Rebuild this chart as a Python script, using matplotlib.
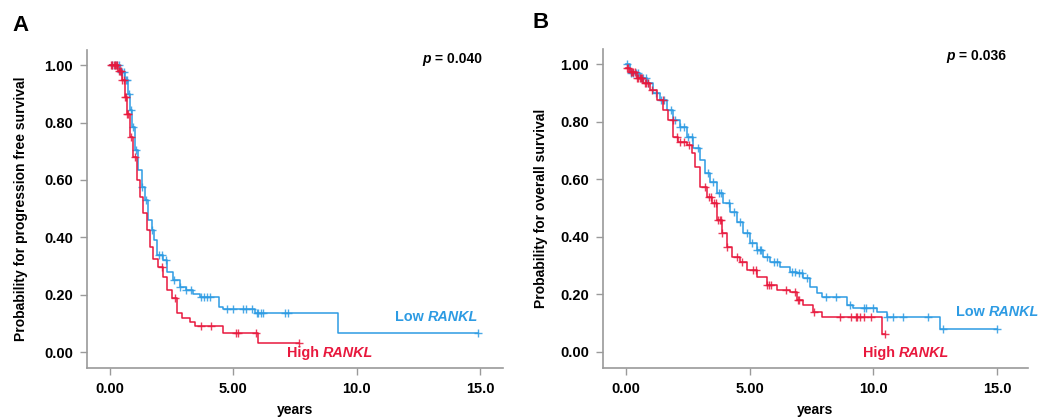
import numpy as np
import matplotlib
matplotlib.use("Agg")
import matplotlib.pyplot as plt

plt.rcParams['font.family'] = ['Liberation Sans', 'DejaVu Sans']
plt.rcParams['font.weight'] = 'bold'

RED = '#e8183d'
BLUE = '#2d9be3'

# Panel A: progression free survival (time in years, survival probability)
pfs_low_t = [0, 0.4, 0.6, 0.74, 0.81, 0.88, 1.01, 1.15, 1.28, 1.42, 1.55, 1.69, 1.78, 1.89,
             2.16, 2.3, 2.57, 2.84, 3.1, 3.38, 3.65, 4.4, 4.6, 5.88, 9.26]
pfs_low_s = [1.0, 0.977, 0.948, 0.90, 0.843, 0.785, 0.704, 0.634, 0.576, 0.53, 0.46, 0.425, 0.39, 0.338,
             0.32, 0.28, 0.25, 0.228, 0.216, 0.204, 0.193, 0.158, 0.149, 0.135, 0.067]
pfs_low_end = 14.93
pfs_low_cens = [0.1, 0.2, 0.3, 0.35, 0.45, 0.5, 0.55, 0.65, 0.7, 0.78, 0.85, 0.95, 1.05, 1.3,
                1.45, 1.7, 2.0, 2.1, 2.25, 2.6, 2.85, 3.1, 3.3, 3.7, 3.8, 3.95, 4.05,
                4.75, 5.0, 5.4, 5.5, 5.75, 5.95, 6.0, 6.1, 6.2, 7.1, 7.2, 14.93]

pfs_high_t = [0, 0.34, 0.47, 0.6, 0.68, 0.81, 0.95, 1.08, 1.22, 1.35, 1.49, 1.62, 1.76, 1.96,
              2.16, 2.3, 2.5, 2.7, 2.9, 3.24, 3.45, 4.6, 6.01]
pfs_high_s = [1.0, 0.98, 0.948, 0.89, 0.83, 0.75, 0.68, 0.60, 0.54, 0.483, 0.425, 0.367, 0.326, 0.297,
              0.262, 0.216, 0.187, 0.135, 0.117, 0.106, 0.09, 0.065, 0.033]
pfs_high_end = 7.64
pfs_high_cens = [0.05, 0.1, 0.15, 0.2, 0.25, 0.3, 0.35, 0.4, 0.45, 0.5, 0.55, 0.62, 0.65, 0.7,
                 0.75, 0.85, 1.0, 2.1, 2.65, 3.7, 4.1, 5.1, 5.2, 5.9, 7.64]

# Panel B: overall survival
os_low_t = [0, 0.16, 0.57, 0.84, 1.1, 1.37, 1.64, 1.91, 2.18, 2.45, 2.72, 2.99, 3.19, 3.4, 3.67,
            3.94, 4.2, 4.47, 4.74, 5.01, 5.28, 5.55, 5.82, 6.23, 6.63, 6.9, 7.17, 7.44, 7.71,
            7.91, 8.92, 9.19, 10.13, 10.54, 12.7]
os_low_s = [1.0, 0.969, 0.951, 0.934, 0.90, 0.876, 0.841, 0.806, 0.783, 0.748, 0.708, 0.667, 0.62,
            0.592, 0.551, 0.516, 0.487, 0.452, 0.412, 0.377, 0.354, 0.33, 0.313, 0.296, 0.278,
            0.273, 0.255, 0.226, 0.203, 0.191, 0.162, 0.151, 0.139, 0.122, 0.079]
os_low_end = 15.01
os_low_cens = [0.05, 0.2, 0.3, 0.4, 0.5, 0.6, 0.7, 0.8, 0.9, 1.2, 1.4, 1.55, 1.8, 2.0, 2.2, 2.35,
               2.5, 2.65, 2.9, 3.3, 3.5, 3.75, 3.85, 4.15, 4.35, 4.6, 4.9, 5.1, 5.3, 5.4,
               5.45, 5.7, 6.0, 6.1, 6.7, 6.85, 7.0, 7.1, 7.3, 8.1, 8.5, 9.05, 9.6, 9.7,
               10.0, 10.55, 10.8, 11.2, 12.2, 12.8, 15.01]

os_high_t = [0, 0.16, 0.43, 0.7, 0.97, 1.24, 1.51, 1.71, 1.91, 2.12, 2.45, 2.66, 2.79, 2.99, 3.26,
             3.46, 3.67, 3.87, 4.07, 4.27, 4.61, 4.88, 5.28, 5.69, 6.09, 6.63, 6.9, 7.17, 7.57,
             7.91, 10.34]
os_high_s = [0.986, 0.974, 0.951, 0.934, 0.911, 0.876, 0.841, 0.806, 0.748, 0.731, 0.719, 0.69,
             0.644, 0.574, 0.539, 0.516, 0.458, 0.412, 0.365, 0.331, 0.313, 0.284, 0.261, 0.232,
             0.215, 0.209, 0.18, 0.162, 0.139, 0.122, 0.06]
os_high_end = 10.47
os_high_cens = [0.05, 0.1, 0.2, 0.25, 0.3, 0.35, 0.45, 0.5, 0.55, 0.6, 0.65, 0.75, 0.8, 0.9,
                1.05, 1.5, 1.9, 2.05, 2.2, 2.35, 2.55, 3.2, 3.35, 3.45, 3.55, 3.65, 3.7, 3.8,
                3.85, 3.9, 4.1, 4.5, 4.7, 5.15, 5.25, 5.7, 5.8, 5.85, 6.45, 6.85, 6.95, 7.0,
                7.6, 8.65, 9.1, 9.3, 9.35, 9.45, 9.6, 9.9, 10.47]

x_ticks = [0, 5, 10, 15]
x_tick_labels = ['0.00', '5.00', '10.0', '15.0']
y_ticks = [0, 0.2, 0.4, 0.6, 0.8, 1.0]
y_tick_labels = ['0.00', '0.20', '0.40', '0.60', '0.80', '1.00']


def km_curve(ax, t, s, t_end, cens, color):
    tt = np.append(t, t_end)
    ss = np.append(s, s[-1])
    ax.plot(tt, ss, drawstyle='steps-post', color=color, lw=1.1)
    idx = np.searchsorted(t, cens, side='right') - 1
    cy = np.array(s)[idx]
    ax.plot(cens, cy, ls='', marker='+', color=color, markersize=6, mew=1.0, alpha=0.85)


def style_axes(ax, xmax):
    ax.set_xlim(-0.93, xmax)
    ax.set_ylim(-0.0557, 1.053)
    for sp in ['top', 'right']:
        ax.spines[sp].set_visible(False)
    for sp in ['left', 'bottom']:
        ax.spines[sp].set_color('#9a9a9a')
        ax.spines[sp].set_linewidth(1.2)
    ax.set_xticks(x_ticks)
    ax.set_xticklabels(x_tick_labels)
    ax.set_yticks(y_ticks)
    ax.set_yticklabels(y_tick_labels)
    ax.tick_params(direction='out', length=5, width=1.0, color='#9a9a9a',
                   labelsize=10.5, pad=5)
    for lab in ax.get_xticklabels() + ax.get_yticklabels():
        lab.set_fontweight('bold')


def two_part(ax, x, y, first, second, color, size, first_italic=False):
    # first piece, then second piece glued to its right edge
    t1 = ax.text(x, y, first, fontsize=size, fontweight='bold', color=color,
                 style='italic' if first_italic else 'normal', ha='left', va='center')
    ax.annotate(second, xy=(1, 0), xycoords=t1, va='bottom', ha='left',
                fontsize=size, fontweight='bold', color=color,
                style='normal' if first_italic else 'italic')


fig = plt.figure(figsize=(10.4, 4.18), dpi=100)
axA = fig.add_axes([0.0837, 0.1196, 0.400, 0.7608])
axB = fig.add_axes([0.5798, 0.1203, 0.4087, 0.7625])

km_curve(axA, pfs_low_t, pfs_low_s, pfs_low_end, pfs_low_cens, BLUE)
km_curve(axA, pfs_high_t, pfs_high_s, pfs_high_end, pfs_high_cens, RED)
km_curve(axB, os_low_t, os_low_s, os_low_end, os_low_cens, BLUE)
km_curve(axB, os_high_t, os_high_s, os_high_end, os_high_cens, RED)

style_axes(axA, 15.93)
style_axes(axB, 16.25)

axA.set_ylabel('Probability for progression free survival', fontsize=10, fontweight='bold', labelpad=12)
axB.set_ylabel('Probability for overall survival', fontsize=10, fontweight='bold', labelpad=9)
axA.set_xlabel('years', fontsize=10, fontweight='bold', labelpad=5)
axB.set_xlabel('years', fontsize=10, fontweight='bold', labelpad=5)

two_part(axA, 12.65, 1.02, 'p', ' = 0.040', 'black', 10, first_italic=True)
two_part(axB, 12.94, 1.029, 'p', ' = 0.036', 'black', 10, first_italic=True)

two_part(axA, 11.55, 0.122, 'Low ', 'RANKL', BLUE, 10.4)
two_part(axA, 7.17, -0.004, 'High ', 'RANKL', RED, 10.4)
two_part(axB, 13.35, 0.138, 'Low ', 'RANKL', BLUE, 10.4)
two_part(axB, 9.58, -0.005, 'High ', 'RANKL', RED, 10.4)

fig.text(0.0115, 0.94, 'A', fontsize=16, fontweight='bold', va='center')
fig.text(0.512, 0.945, 'B', fontsize=16, fontweight='bold', va='center')

fig.savefig('out.png', dpi=100)
